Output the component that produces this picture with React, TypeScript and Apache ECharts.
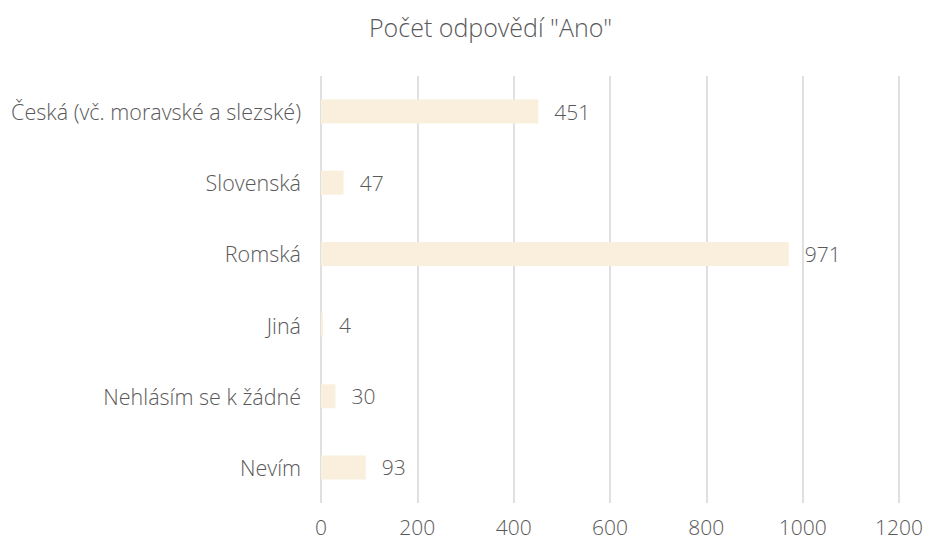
import React, { useEffect, useRef } from "react";
import * as echarts from "echarts";

const categories = [
  "Česká (vč. moravské a slezské)",
  "Slovenská",
  "Romská",
  "Jiná",
  "Nehlásím se k žádné",
  "Nevím",
];
const values = [451, 47, 971, 4, 30, 93];
const xTicks = { min: 0, max: 1200, interval: 200 };
const title = 'Počet odpovědí "Ano"';

export default function App() {
  const ref = useRef<HTMLDivElement>(null);
  useEffect(() => {
    const chart = echarts.init(ref.current!, null, { renderer: "svg" });
    const font = "'Open Sans', sans-serif";
    const color = "#595959";
    chart.setOption({
      animation: false,
      title: {
        text: title,
        left: 364,
        top: 9,
        textStyle: { fontFamily: font, fontSize: 25, fontWeight: 300, color },
      },
      grid: { left: 321, right: 26, top: 76, bottom: 37, containLabel: false },
      xAxis: {
        type: "value",
        min: xTicks.min,
        max: xTicks.max,
        interval: xTicks.interval,
        axisLine: { show: false },
        axisTick: { show: false },
        axisLabel: {
          fontFamily: font,
          fontSize: 21,
          fontWeight: 300,
          color,
          margin: 13,
          formatter: (v: number) => String(v),
        },
        splitLine: { show: true, lineStyle: { color: "#e0e0e0", width: 2 } },
      },
      yAxis: {
        type: "category",
        inverse: true,
        data: categories,
        axisLine: { show: false },
        axisTick: { show: false },
        axisLabel: { fontFamily: font, fontSize: 21.5, fontWeight: 300, color, margin: 20 },
      },
      series: [
        {
          type: "bar",
          data: values,
          barWidth: 24,
          itemStyle: { color: "#FAEFDC" },
          label: {
            show: true,
            position: "right",
            distance: 16,
            fontFamily: font,
            fontSize: 21,
            fontWeight: 300,
            color,
          },
        },
      ],
    });
    return () => chart.dispose();
  }, []);
  return (
    <div
      ref={ref}
      style={{ position: "absolute", left: 0, top: 0, width: 926, height: 540 }}
    />
  );
}
